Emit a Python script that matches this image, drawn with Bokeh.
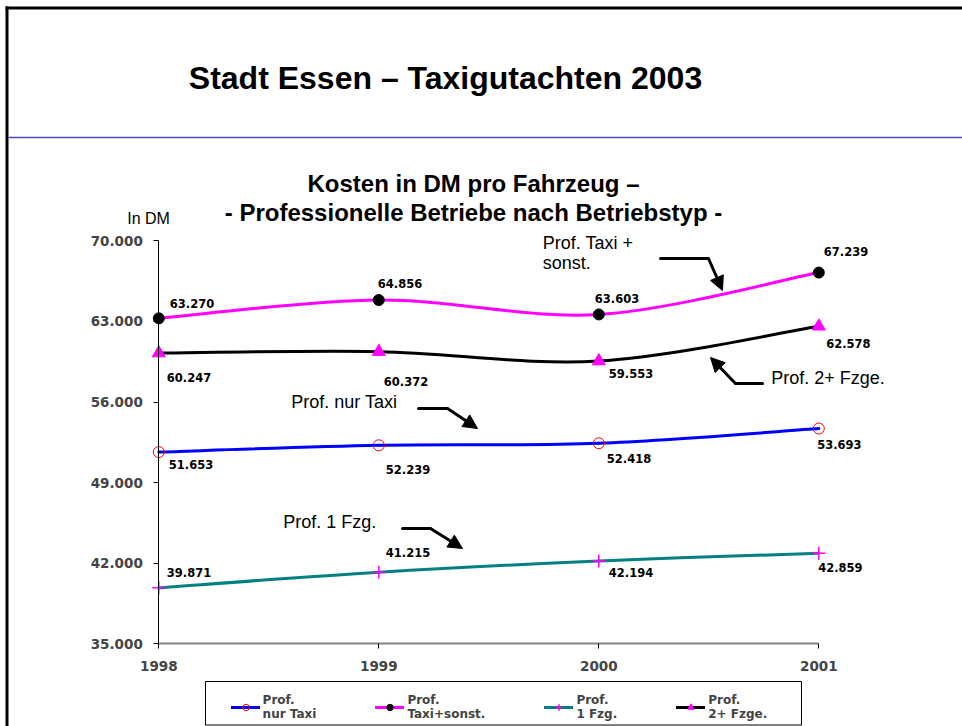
from bokeh.plotting import figure
from bokeh.models import (Range1d, LinearAxis, FixedTicker, Arrow, NormalHead,
                          Legend, LegendItem, ColumnDataSource)
from bokeh.core.properties import value
from bokeh.embed import file_html
from bokeh.resources import INLINE

# ---------------- data ----------------
years = [1998, 1999, 2000, 2001]
nur_taxi = [51653, 52239, 52418, 53693]
taxi_sonst = [63270, 64856, 63603, 67239]
ein_fzg = [39871, 41215, 42194, 42859]
zwei_fzge = [60247, 60372, 59553, 62578]

y_ticks = [35000, 42000, 49000, 56000, 63000, 70000]
y_tick_labels = ["35.000", "42.000", "49.000", "56.000", "63.000", "70.000"]
x_tick_labels = ["1998", "1999", "2000", "2001"]
legend_labels = ["Prof.\nnur Taxi", "Prof.\nTaxi+sonst.", "Prof.\n1 Fzg.", "Prof.\n2+ Fzge."]

title_text = "Stadt Essen \u2013 Taxigutachten 2003"
subtitle_1 = "Kosten in DM pro Fahrzeug \u2013"
subtitle_2 = "- Professionelle Betriebe nach Betriebstyp -"
unit_text = "In DM"

# ---------------- layout (page pixel geometry) ----------------
W, H = 962, 726
X_PIX_1998, X_PIX_PER_YEAR = 158.3, 220.0
Y_PIX_70000, Y_PIX_35000 = 240.3, 643.3
UNITS_PER_PX = (70000 - 35000) / (Y_PIX_35000 - Y_PIX_70000)
BASE_SHIFT = 0.32  # fraction of font size to lift text with alphabetic baseline

X0 = 1998 - X_PIX_1998 / X_PIX_PER_YEAR
X1 = X0 + W / X_PIX_PER_YEAR
Y1 = 70000 + Y_PIX_70000 * UNITS_PER_PX
Y0 = Y1 - H * UNITS_PER_PX


def px(x):
    return X0 + x / X_PIX_PER_YEAR


def py(y):
    return Y1 - y * UNITS_PER_PX


def pyt(y, size):
    return py(y - BASE_SHIFT * size)


def de(v):
    return f"{v:,}".replace(",", ".")


def bezier_segments(xs, ys):
    n = len(xs)
    seg = dict(x0=[], y0=[], x1=[], y1=[], cx0=[], cy0=[], cx1=[], cy1=[])
    for i in range(n - 1):
        im1 = max(i - 1, 0)
        ip2 = min(i + 2, n - 1)
        seg["x0"].append(xs[i]); seg["y0"].append(ys[i])
        seg["x1"].append(xs[i + 1]); seg["y1"].append(ys[i + 1])
        seg["cx0"].append(xs[i] + (xs[i + 1] - xs[im1]) / 6)
        seg["cy0"].append(ys[i] + (ys[i + 1] - ys[im1]) / 6)
        seg["cx1"].append(xs[i + 1] - (xs[ip2] - xs[i]) / 6)
        seg["cy1"].append(ys[i + 1] - (ys[ip2] - ys[i]) / 6)
    return seg


p = figure(width=W, height=H, x_range=Range1d(X0, X1), y_range=Range1d(Y0, Y1),
           x_axis_type=None, y_axis_type=None, toolbar_location=None,
           output_backend="svg", min_border=0, outline_line_color=None,
           background_fill_color="white", border_fill_color="white")

# slide decoration: frame bars and separator, drawn as filled bands
p.quad(left=[px(5), px(5)], right=[px(962), px(8)], top=[py(6), py(6)], bottom=[py(9), py(726)],
       fill_color="black", line_color=None)
p.quad(left=[px(8)], right=[px(962)], top=[py(136.3)], bottom=[py(137.8)],
       fill_color="#4646c8", line_color=None)

# axes
yax = LinearAxis(fixed_location=1998, bounds=(35000, 70000), ticker=FixedTicker(ticks=y_ticks),
                 major_label_overrides={t: l for t, l in zip(y_ticks, y_tick_labels)})
yax.axis_line_color = "black"
yax.axis_line_width = 1
yax.major_tick_line_color = "black"
yax.major_tick_out = 5
yax.major_tick_in = 0
yax.minor_tick_line_color = None
yax.major_label_text_font = "DejaVu Sans"
yax.major_label_text_font_style = "bold"
yax.major_label_text_font_size = "13.5px"
yax.major_label_standoff = 11
p.add_layout(yax, "left")

xax = LinearAxis(fixed_location=35000, bounds=(1998, 2001), ticker=FixedTicker(ticks=years),
                 major_label_overrides={t: l for t, l in zip(years, x_tick_labels)})
xax.axis_line_color = "#808080"
xax.axis_line_width = 2
xax.major_tick_line_color = "black"
xax.major_tick_out = 5
xax.major_tick_in = 0
xax.minor_tick_line_color = None
xax.major_label_text_font = "DejaVu Sans"
xax.major_label_text_font_style = "bold"
xax.major_label_text_font_size = "13.5px"
xax.major_label_standoff = 12
p.add_layout(xax, "below")

# titles
p.text(x=[px(445)], y=[pyt(88, 32)], text=[title_text], text_font=value("Liberation Sans"),
       text_font_style="bold", text_font_size="32px", text_align="center",
       text_baseline="alphabetic", text_color="black")
p.text(x=[px(473), px(473)], y=[pyt(190.7, 24), pyt(220, 24)], text=[subtitle_1, subtitle_2],
       text_font=value("Liberation Sans"), text_font_style="bold", text_font_size="24px",
       text_align="center", text_baseline="alphabetic", text_color="black")
p.text(x=[px(126.7)], y=[pyt(223, 16)], text=[unit_text], text_font=value("Liberation Sans"),
       text_font_size="16px", text_align="left", text_baseline="alphabetic", text_color="black")

# legend box
p.quad(left=[px(205)], right=[px(801)], top=[py(681)], bottom=[py(724.5)],
       fill_color="white", line_color="black", line_width=1)

# series
series = [
    dict(vals=nur_taxi, color="#0000ff", marker="circle", m_fill=None, m_line="#ff0000", m_size=11, m_lw=1,
         dx=[10, 7, 8, -1.6], dy=[15.7, 28, 19.4, 19.5]),
    dict(vals=taxi_sonst, color="#ff00ff", marker="circle", m_fill="black", m_line="black", m_size=11, m_lw=1,
         dx=[11, -1, -4, 5], dy=[-11, -12.6, -12.5, -17]),
    dict(vals=ein_fzg, color="#008080", marker="cross", m_fill=None, m_line="#ff00ff", m_size=13, m_lw=1.5,
         dx=[8, 7, 10, -0.6], dy=[-12, -16.4, 15, 17.5]),
    dict(vals=zwei_fzge, color="black", marker="triangle", m_fill="#ff00ff", m_line="#ff00ff", m_size=13, m_lw=1,
         dx=[8, 5, 10, 7.4], dy=[28, 33.6, 16.4, 21]),
]
LABEL_SIZE = 11.5

items = []
for s, lab in zip(series, legend_labels):
    src = ColumnDataSource(bezier_segments(years, s["vals"]))
    r_line = p.bezier(x0="x0", y0="y0", x1="x1", y1="y1", cx0="cx0", cy0="cy0", cx1="cx1", cy1="cy1",
                      source=src, line_color=s["color"], line_width=3, line_cap="round")
    items.append([lab, r_line])

for s, it in zip(series, items):
    r_mark = p.scatter(years, s["vals"], marker=s["marker"], size=s["m_size"],
                       fill_color=s["m_fill"], line_color=s["m_line"], line_width=s["m_lw"])
    it.append(r_mark)
    p.text(x=years, y=s["vals"], text=[de(v) for v in s["vals"]], x_offset=s["dx"],
           y_offset=[d - BASE_SHIFT * LABEL_SIZE for d in s["dy"]],
           text_font=value("DejaVu Sans"), text_font_style="bold", text_font_size=f"{LABEL_SIZE}px",
           text_align="left", text_baseline="alphabetic", text_color="black")

# callout labels
callouts = [("Prof. Taxi +", 542.3, 248.3), ("sonst.", 542.3, 268.3), ("Prof. 2+ Fzge.", 770.7, 383.3),
            ("Prof. nur Taxi", 290.7, 407.3), ("Prof. 1 Fzg.", 282.7, 527.7)]
p.text(x=[px(c[1]) for c in callouts], y=[pyt(c[2], 18) for c in callouts], text=[c[0] for c in callouts],
       text_font=value("Liberation Sans"), text_font_size="18px", text_align="left",
       text_baseline="alphabetic", text_color="black")

# callout arrows: (start, corner, tip)
arrows = [((660, 258), (708, 258), (722, 290)),
          ((762, 383), (735, 383), (710, 357)),
          ((418, 408), (447, 408), (477, 428)),
          ((402, 528), (430, 528), (462, 548))]
p.segment(x0=[px(a[0][0]) for a in arrows], y0=[py(a[0][1]) for a in arrows],
          x1=[px(a[1][0]) for a in arrows], y1=[py(a[1][1]) for a in arrows],
          line_color="black", line_width=3, line_cap="round")
for a in arrows:
    p.add_layout(Arrow(end=NormalHead(size=14, fill_color="black", line_color="black", line_width=1),
                       x_start=px(a[1][0]), y_start=py(a[1][1]), x_end=px(a[2][0]), y_end=py(a[2][1]),
                       line_color="black", line_width=3))

legend = Legend(items=[LegendItem(label=value(l), renderers=r) for l, *r in items],
                orientation="horizontal", location=(230.6, 5), margin=0, padding=3,
                spacing=59, label_standoff=3, glyph_width=29, glyph_height=16,
                label_text_font="DejaVu Sans", label_text_font_style="bold",
                label_text_font_size="12px", label_text_line_height=1.6,
                border_line_color=None, background_fill_alpha=0)
p.add_layout(legend)

open("out.html", "w").write(file_html(p, INLINE))
